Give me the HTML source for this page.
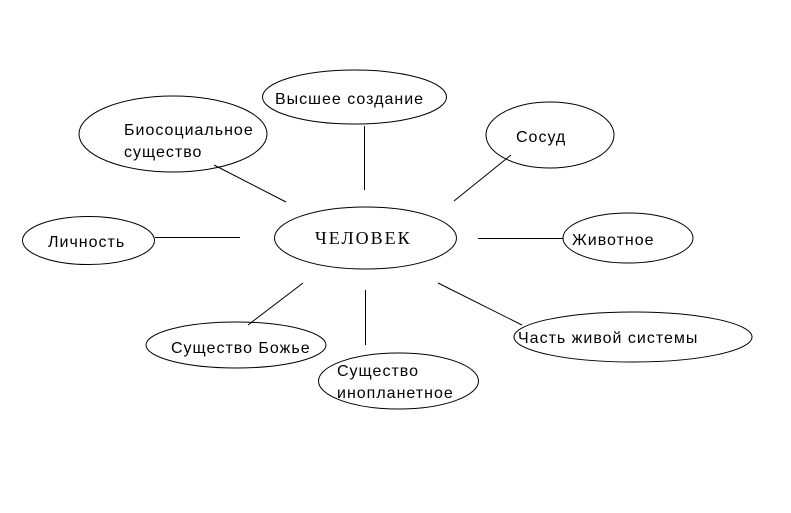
<!DOCTYPE html>
<html><head><meta charset="utf-8"><style>
body{margin:0;background:#fff}
svg{display:block}
text{font-family:"Liberation Sans",sans-serif;font-size:16px;letter-spacing:1px;fill:#000}
</style></head><body>
<svg width="791" height="513" viewBox="0 0 791 513" xmlns="http://www.w3.org/2000/svg">
<g fill="none" stroke="#000" stroke-width="1">
<ellipse cx="354.5" cy="97" rx="92" ry="27"/>
<ellipse cx="173" cy="134" rx="94" ry="38"/>
<ellipse cx="550" cy="135" rx="64" ry="33"/>
<ellipse cx="365.5" cy="238" rx="91" ry="31"/>
<ellipse cx="88.5" cy="240.5" rx="66" ry="24"/>
<ellipse cx="628" cy="238" rx="65" ry="25"/>
<ellipse cx="633" cy="337" rx="119" ry="25"/>
<ellipse cx="236" cy="345" rx="90" ry="23"/>
<ellipse cx="398.5" cy="381" rx="80" ry="28"/>
<line x1="364.5" y1="126" x2="364.5" y2="190"/>
<line x1="214" y1="165" x2="286" y2="202"/>
<line x1="454" y1="201" x2="511" y2="155"/>
<line x1="155" y1="237.5" x2="240" y2="237.5"/>
<line x1="478" y1="238.5" x2="563" y2="238.5"/>
<line x1="438" y1="283" x2="522" y2="325"/>
<line x1="303" y1="283" x2="248" y2="325"/>
<line x1="365.5" y1="290" x2="365.5" y2="345"/>
</g>
<text x="275" y="104">Высшее создание</text>
<text x="124" y="135">Биосоциальное</text>
<text x="124" y="157">существо</text>
<text x="516" y="142">Сосуд</text>
<text x="315" y="244" style="font-family:'Liberation Serif',serif;font-size:18px;letter-spacing:2px">ЧЕЛОВЕК</text>
<text x="48" y="247">Личность</text>
<text x="572" y="245">Животное</text>
<text x="518" y="343">Часть живой системы</text>
<text x="171" y="353">Существо Божье</text>
<text x="337" y="376">Существо</text>
<text x="337" y="398">инопланетное</text>
</svg>
</body></html>
